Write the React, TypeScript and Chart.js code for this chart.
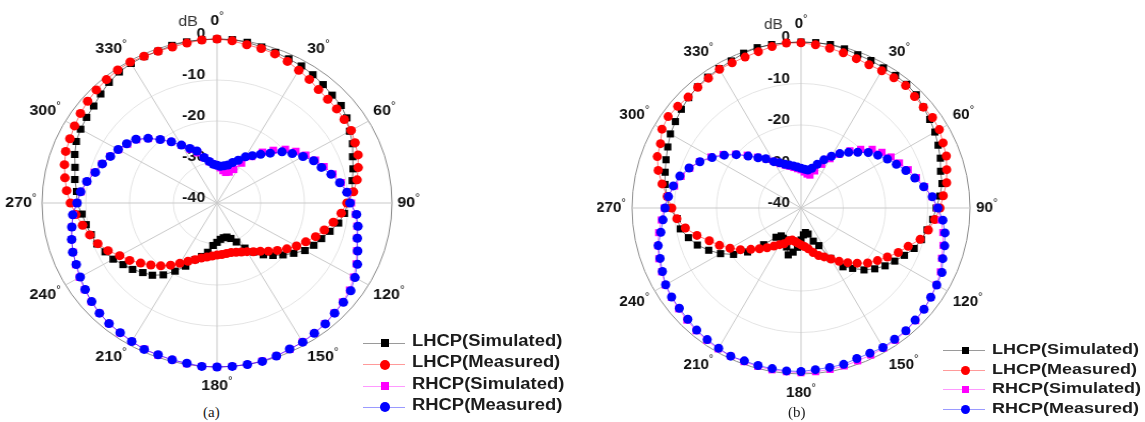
import React, { useEffect, useRef } from "react";
import { Chart, registerables } from "chart.js";

Chart.register(...registerables);

// ---- categories (angle in degrees, one sample every 5°) ----
const angleLabels = [
  0, 5, 10, 15, 20, 25, 30, 35, 40, 45, 50, 55,
  60, 65, 70, 75, 80, 85, 90, 95, 100, 105, 110, 115,
  120, 125, 130, 135, 140, 145, 150, 155, 160, 165, 170, 175,
  180, 185, 190, 195, 200, 205, 210, 215, 220, 225, 230, 235,
  240, 245, 250, 255, 260, 265, 270, 275, 280, 285, 290, 295,
  300, 305, 310, 315, 320, 325, 330, 335, 340, 345, 350, 355,
];
const shownAngles = [0, 30, 60, 90, 120, 150, 180, 210, 240, 270, 300, 330];
const dbTicks = [0, -10, -20, -30, -40];

const seriesNames = ["LHCP(Simulated)", "LHCP(Measured)", "RHCP(Simulated)", "RHCP(Measured)"];

// ---- panel (a) ----
const lhcpSimA = [
  0, 0, -0.2, -0.6, -0.9, -1.2, -1.4, -1.8, -2.3, -2.8, -3.0, -3.8,
  -5.0, -5.8, -7.0, -7.8, -8.6, -9.0, -10.0, -10.8, -11.8, -13.3, -14.6, -15.6,
  -16.8, -18.6, -20.3, -21.9, -23.5, -25.4, -27.3, -29.5, -30.8, -31.4, -31.4, -31.1,
  -30.4, -29.6, -27.8, -26.5, -25.3, -23.0, -20.8, -18.6, -17.0, -16.0, -14.8, -13.8,
  -12.6, -11.8, -10.8, -10.2, -9.6, -9.0, -8.0, -7.8, -7.0, -6.4, -5.4, -4.5,
  -4.0, -3.6, -3.2, -2.4, -1.6, -1.0, -0.7, -0.6, -0.6, -0.2, -0.1, 0,
];
const lhcpMeasA = [
  0, -0.3, -0.8, -1.0, -1.3, -1.9, -2.6, -3.2, -3.9, -4.2, -4.3, -4.5,
  -4.6, -5.2, -5.7, -6.6, -7.5, -8.7, -10.3, -11.5, -13.0, -14.6, -16.0, -17.6,
  -19.0, -20.5, -22.0, -23.4, -24.6, -25.5, -26.3, -26.8, -27.2, -27.5, -27.5, -27.4,
  -27.3, -27.0, -26.6, -26.1, -25.3, -24.3, -23.0, -21.5, -20.0, -18.6, -17.2, -15.6,
  -14.3, -12.5, -11.0, -9.9, -8.8, -7.6, -6.5, -5.5, -4.7, -3.9, -3.2, -2.9,
  -2.4, -1.9, -1.4, -1.0, -0.7, -0.4, -0.3, -0.5, -0.6, -0.6, -0.4, -0.1,
];
const rhcpSimA = [
  -30.9, -31.4, -32.0, -32.3, -32.0, -31.0, -28.8, -26.2, -23.8, -21.8, -19.6, -18.0,
  -16.6, -15.2, -14.0, -12.6, -11.2, -10.0, -9.3, -8.2, -7.5, -6.9, -6.0, -4.9,
  -3.9, -3.0, -2.5, -2.1, -1.6, -1.2, -0.9, -0.6, -0.3, -0.1, 0, 0,
  0, 0, -0.2, -0.4, -0.5, -0.7, -1.0, -1.3, -1.6, -2.0, -2.5, -3.1,
  -3.7, -4.4, -5.0, -5.6, -6.3, -7.0, -7.9, -8.8, -9.8, -11.0, -12.0, -13.0,
  -14.0, -15.0, -16.0, -17.8, -19.8, -21.8, -23.8, -25.6, -27.0, -28.6, -29.8, -30.5,
];
const rhcpMeasA = [
  -30.8, -31.0, -30.8, -30.4, -29.5, -28.5, -27.0, -25.9, -24.5, -22.8, -20.6, -19.0,
  -17.3, -15.6, -14.6, -13.0, -11.5, -10.2, -9.6, -8.0, -7.3, -6.8, -5.8, -4.6,
  -3.6, -2.7, -2.3, -2.0, -1.5, -1.2, -0.8, -0.7, -0.3, 0, 0, 0,
  0, 0, -0.3, -0.4, -0.6, -0.6, -1.0, -1.4, -1.6, -2.0, -2.6, -3.2,
  -3.9, -4.5, -4.9, -5.6, -6.3, -6.9, -8.0, -8.7, -9.8, -11.2, -12.1, -13.1,
  -13.9, -14.8, -15.8, -17.7, -19.8, -21.8, -23.7, -25.3, -26.5, -28.5, -29.7, -30.5,
];

// ---- panel (b) ----
const lhcpSimB = [
  0, 0, 0, -0.3, -0.7, -0.8, -1.0, -1.0, -1.1, -1.4, -2.2, -2.8,
  -3.4, -4.2, -4.9, -5.8, -6.1, -7.0, -8.0, -8.7, -9.7, -10.5, -11.5, -13.0,
  -14.4, -15.7, -17.2, -18.9, -21.0, -22.7, -26.0, -30.0, -31.5, -33.5, -34.0, -33.5,
  -32.3, -30.5, -29.2, -28.3, -30.0, -31.5, -31.6, -31.8, -30.8, -27.5, -23.5, -20.5,
  -18.0, -15.9, -13.9, -12.4, -11.0, -10.6, -8.8, -8.2, -7.3, -6.7, -6.0, -5.2,
  -4.3, -3.7, -3.0, -2.4, -1.9, -1.5, -1.2, -0.9, -0.3, 0, 0, 0,
];
const lhcpMeasB = [
  -0.2, -0.5, -0.9, -1.3, -1.7, -1.9, -1.8, -1.7, -1.5, -2.0, -2.2, -2.0,
  -2.2, -2.9, -3.4, -4.3, -5.0, -6.2, -7.1, -8.2, -9.4, -10.8, -13.0, -14.6,
  -16.4, -17.9, -19.4, -21.2, -22.8, -24.3, -25.8, -27.0, -27.8, -28.9, -30.0, -30.7,
  -31.1, -31.5, -31.8, -32.0, -31.6, -30.5, -29.8, -28.8, -27.5, -26.1, -24.5, -22.5,
  -20.6, -18.7, -16.9, -14.5, -12.2, -10.5, -9.4, -8.2, -6.6, -5.0, -3.8, -3.3,
  -2.0, -1.6, -1.9, -2.2, -2.0, -1.8, -1.4, -1.4, -1.3, -1.0, -0.5, -0.1,
];
const rhcpSimB = [
  -30.8, -31.3, -31.7, -31.8, -30.5, -28.4, -26.3, -24.2, -22.0, -20.0, -18.0, -16.6,
  -15.4, -14.3, -13.0, -11.7, -10.3, -8.9, -7.8, -6.7, -5.9, -5.2, -4.6, -3.6,
  -3.0, -2.5, -2.0, -1.6, -1.3, -1.1, -1.0, -0.9, -0.8, -0.6, -0.5, -0.4,
  -0.3, -0.4, -0.4, -0.5, -0.6, -0.6, -0.8, -1.1, -1.4, -1.8, -2.2, -2.5,
  -2.9, -3.6, -4.2, -4.9, -5.8, -6.8, -7.6, -8.4, -9.6, -10.6, -12.0, -13.5,
  -15.4, -17.5, -19.8, -22.0, -24.0, -25.6, -27.0, -28.2, -29.0, -29.6, -30.1, -30.5,
];
const rhcpMeasB = [
  -30.4, -30.6, -30.7, -30.1, -28.8, -27.2, -25.6, -24.0, -22.5, -21.0, -19.2, -17.8,
  -16.4, -15.1, -13.6, -12.1, -10.5, -8.8, -7.6, -6.3, -5.4, -4.8, -4.3, -3.2,
  -2.9, -2.5, -2.0, -1.8, -1.4, -1.4, -1.2, -1.4, -1.4, -1.0, -1.0, -0.9,
  -0.6, -0.6, -0.7, -0.7, -0.8, -0.6, -1.0, -1.3, -1.6, -2.1, -2.4, -2.6,
  -3.0, -3.8, -4.5, -5.0, -6.3, -7.2, -7.8, -8.5, -9.3, -10.3, -11.8, -13.6,
  -15.7, -17.8, -20.0, -22.3, -24.2, -25.5, -27.1, -28.0, -28.8, -29.3, -29.7, -30.1,
];

// ---- styles ----
const markerColors = ["#000000", "#ff0000", "#ff00ff", "#0000ff"];
const lineColors = ["rgba(0,0,0,0.55)", "rgba(255,0,0,0.55)", "rgba(255,0,255,0.55)", "rgba(0,0,255,0.55)"];
const legendLineColors = ["#9a9a9a", "#ff9a9a", "#ff99ff", "#9a9aff"];
const markerShapes = ["rect", "circle", "rect", "circle"];
const FONT = '"Liberation Sans", Arial, Helvetica, sans-serif';

type PanelProps = {
  series: number[][];
  cx: number;
  cy: number;
  radius: number;
  sx: number;
  sidePad: number;
  endPad: number;
};

function PolarPanel({ series, cx, cy, radius, sx, sidePad, endPad }: PanelProps) {
  const ref = useRef<HTMLCanvasElement | null>(null);
  const size = 400;
  useEffect(() => {
    const canvas = ref.current;
    if (!canvas) return;
    const pad = (size - 2 * radius) / 2;

    const textPlugin = {
      id: "polarText",
      beforeDatasetsDraw(chart: any) {
        const s = chart.scales.r;
        const ctx = chart.ctx as CanvasRenderingContext2D;
        ctx.save();
        // radial tick labels, right-aligned just left of the 0° spoke
        ctx.font = `bold 15px ${FONT}`;
        ctx.fillStyle = "#111";
        ctx.textAlign = "right";
        ctx.textBaseline = "alphabetic";
        dbTicks.forEach((v) => {
          const d = s.getDistanceFromCenterForValue(v);
          ctx.fillText(String(v), s.xCenter - 11, s.yCenter - d - 1);
        });
        // unit
        ctx.font = `15px ${FONT}`;
        ctx.fillStyle = "#333";
        const top = s.getDistanceFromCenterForValue(0);
        ctx.fillText("dB", s.xCenter - 18, s.yCenter - top - 13);
        ctx.restore();
      },
      afterDraw(chart: any) {
        const s = chart.scales.r;
        const ctx = chart.ctx as CanvasRenderingContext2D;
        ctx.save();
        ctx.fillStyle = "#111";
        angleLabels.forEach((a, i) => {
          if (!shownAngles.includes(a)) return;
          const padHere = a === 0 || a === 180 ? endPad : sidePad;
          const p = s.getPointPosition(i, s.drawingArea + padHere);
          const txt = String(a);
          ctx.font = `bold 15px ${FONT}`;
          const wd = ctx.measureText(txt).width;
          ctx.font = `11px ${FONT}`;
          const wdeg = ctx.measureText("°").width;
          const w = wd + wdeg;
          const h = 15;
          let x0 = p.x - w / 2;
          if (a !== 0 && a !== 180) x0 = a < 180 ? p.x : p.x - w;
          let y0 = p.y;
          if (a === 90 || a === 270) y0 -= h / 2;
          else if (a > 270 || a < 90) y0 -= h;
          ctx.textAlign = "left";
          ctx.textBaseline = "middle";
          ctx.font = `bold 15px ${FONT}`;
          ctx.fillText(txt, x0, y0 + h / 2);
          ctx.font = `11px ${FONT}`;
          ctx.textBaseline = "top";
          ctx.fillText("°", x0 + wd, y0 - 3);
        });
        ctx.restore();
      },
    };

    const chart = new Chart(canvas, {
      type: "radar",
      data: {
        labels: angleLabels,
        datasets: series.map((values, k) => ({
          label: seriesNames[k],
          data: values,
          borderColor: lineColors[k],
          backgroundColor: markerColors[k],
          borderWidth: 1,
          fill: false,
          pointStyle: markerShapes[k],
          pointRadius: markerShapes[k] === "rect" ? 5 : 4.5,
          pointBackgroundColor: markerColors[k],
          pointBorderWidth: 0,
          order: 4 - k,
        })),
      } as any,
      options: {
        responsive: false,
        animation: false,
        events: [],
        layout: { padding: pad },
        elements: { line: { tension: 0 } },
        plugins: { legend: { display: false }, tooltip: { enabled: false } },
        scales: {
          r: {
            min: -40,
            max: 0,
            ticks: { display: false, stepSize: 10 },
            pointLabels: { display: false },
            grid: {
              circular: true,
              color: (c: any) => (c.tick && c.tick.value === 0 ? "#8c8c8c" : "#e4e4e4"),
              lineWidth: 1,
            },
            angleLines: {
              color: "#c9c9c9",
              lineWidth: (c: any) => (c.index % 6 === 0 ? 1 : 0),
            },
          },
        },
      } as any,
      plugins: [textPlugin],
    });
    return () => chart.destroy();
  }, []);

  return (
    <div
      style={{
        position: "absolute",
        left: cx - size / 2,
        top: cy - size / 2,
        width: size,
        height: size,
        transform: `scaleX(${sx})`,
        transformOrigin: `${size / 2}px ${size / 2}px`,
      }}
    >
      <canvas ref={ref} width={size} height={size} style={{ display: "block", width: size, height: size }} />
    </div>
  );
}

type LegendProps = {
  left: number;
  top: number;
  rowH: number;
  fontSize: number;
  textSx: number;
  sq: number;
  dot: number;
};

function Legend({ left, top, rowH, fontSize, textSx, sq, dot }: LegendProps) {
  return (
    <div style={{ position: "absolute", left, top }}>
      {seriesNames.map((name, k) => {
        const size = markerShapes[k] === "rect" ? sq : dot;
        return (
          <div key={name} style={{ position: "absolute", left: 0, top: k * rowH, width: 230, height: rowH }}>
            <div
              style={{
                position: "absolute",
                left: 0,
                top: Math.round(rowH / 2),
                width: 42,
                height: 1,
                background: legendLineColors[k],
              }}
            />
            <div
              style={{
                position: "absolute",
                left: 22 - size / 2,
                top: rowH / 2 - size / 2 + 0.5,
                width: size,
                height: size,
                borderRadius: markerShapes[k] === "rect" ? 0 : "50%",
                background: markerColors[k],
              }}
            />
            <div
              style={{
                position: "absolute",
                left: 49,
                top: 0,
                height: rowH,
                lineHeight: `${rowH}px`,
                font: `bold ${fontSize}px ${FONT}`,
                color: "#1c1c1c",
                whiteSpace: "nowrap",
                transform: `scaleX(${textSx})`,
                transformOrigin: "left center",
              }}
            >
              {name}
            </div>
          </div>
        );
      })}
    </div>
  );
}

export default function App() {
  return (
    <div
      style={{
        position: "fixed",
        left: 0,
        top: 0,
        width: 1145,
        height: 422,
        overflow: "hidden",
        background: "#ffffff",
      }}
    >
      <PolarPanel
        series={[lhcpSimA, lhcpMeasA, rhcpSimA, rhcpMeasA]}
        cx={217}
        cy={203}
        radius={164}
        sx={1.067}
        sidePad={5}
        endPad={11}
      />
      <PolarPanel
        series={[lhcpSimB, lhcpMeasB, rhcpSimB, rhcpMeasB]}
        cx={801}
        cy={208}
        radius={166}
        sx={1.018}
        sidePad={6}
        endPad={11}
      />
      <Legend left={363} top={332} rowH={21.4} fontSize={16} textSx={1.15} sq={8} dot={10} />
      <Legend left={943} top={340} rowH={19.7} fontSize={15} textSx={1.2} sq={7} dot={9} />
      <div
        style={{
          position: "absolute",
          left: 203,
          top: 404,
          font: '15px "Liberation Serif", "Times New Roman", serif',
          color: "#222",
        }}
      >
        (a)
      </div>
      <div
        style={{
          position: "absolute",
          left: 788,
          top: 404,
          font: '15px "Liberation Serif", "Times New Roman", serif',
          color: "#222",
        }}
      >
        (b)
      </div>
    </div>
  );
}
